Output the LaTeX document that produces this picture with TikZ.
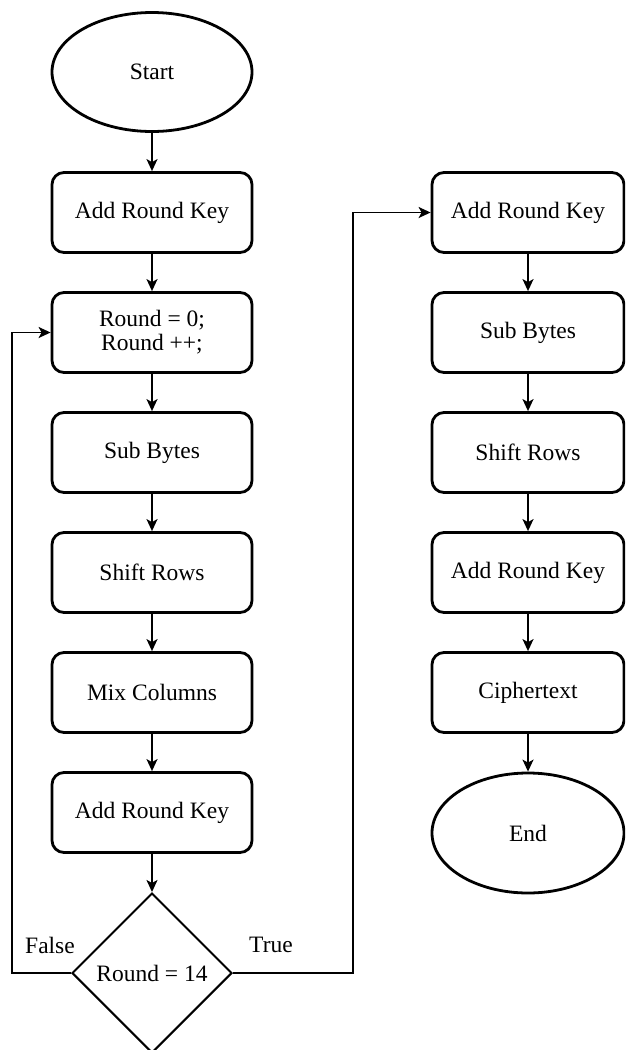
\documentclass[tikz,border=0pt]{standalone}
\usepackage{fontspec}
\setmainfont{Liberation Serif}
\usetikzlibrary{arrows.meta,shapes.geometric}
\begin{document}
\begin{tikzpicture}[x=1pt,y=-1pt,
  txt/.style={font=\fontsize{23.5}{28}\selectfont},
  box/.style={txt,draw,line width=2.8pt,rounded corners=12pt,minimum width=200pt,minimum height=80pt,inner sep=0pt,align=center},
  rbox/.style={box,minimum width=192pt},
  oval/.style={txt,draw,ellipse,line width=2.8pt,inner sep=0pt},
  dec/.style={txt,draw,diamond,line width=2pt,minimum width=160pt,minimum height=160pt,inner sep=0pt},
  arr/.style={line width=1.8pt,-{Stealth[length=12pt,width=11pt,inset=3pt]}}]
\useasboundingbox (0,0) rectangle (625,1050);
\clip (0,0) rectangle (625,1050);
% left column
\node[oval,minimum width=200pt,minimum height=119pt] (start) at (152,72) {Start};
\node[box] (ark1) at (152,212.5) {Add Round Key};
\node[box] (rnd) at (152,332.5) {Round = 0;\\[-4pt]Round ++;};
\node[box] (sub) at (152,452.5) {Sub Bytes};
\node[box] (shift) at (152,572.5) {Shift Rows};
\node[box] (mix) at (152,692.5) {Mix Columns};
\node[box] (ark2) at (152,812.5) {Add Round Key};
\node[dec] (dia) at (152,973) {Round = 14};
% right column
\node[rbox] (rark1) at (528,212.5) {Add Round Key};
\node[rbox] (rsub) at (528,332.5) {Sub Bytes};
\node[rbox] (rshift) at (528,452.5) {Shift Rows};
\node[rbox] (rark2) at (528,572.5) {Add Round Key};
\node[rbox] (ciph) at (528,692.5) {Ciphertext};
\node[oval,minimum width=192pt,minimum height=120pt] (fin) at (528,833) {End};
% connectors
\draw[arr] (start) -- (ark1);
\draw[arr] (ark1) -- (rnd);
\draw[arr] (rnd) -- (sub);
\draw[arr] (sub) -- (shift);
\draw[arr] (shift) -- (mix);
\draw[arr] (mix) -- (ark2);
\draw[arr] (ark2) -- (dia);
\draw[arr] (rark1) -- (rsub);
\draw[arr] (rsub) -- (rshift);
\draw[arr] (rshift) -- (rark2);
\draw[arr] (rark2) -- (ciph);
\draw[arr] (ciph) -- (fin);
\coordinate (lp) at (12,973);
\coordinate (tp) at (353,973);
\draw[arr] (dia.west) -- (lp) |- (rnd.west);
\draw[arr] (dia.east) -- (tp) |- (rark1.west);
\node[txt] (lf) at (50,945) {False};
\node[txt] (lt) at (271,945) {True};
\end{tikzpicture}
\end{document}
